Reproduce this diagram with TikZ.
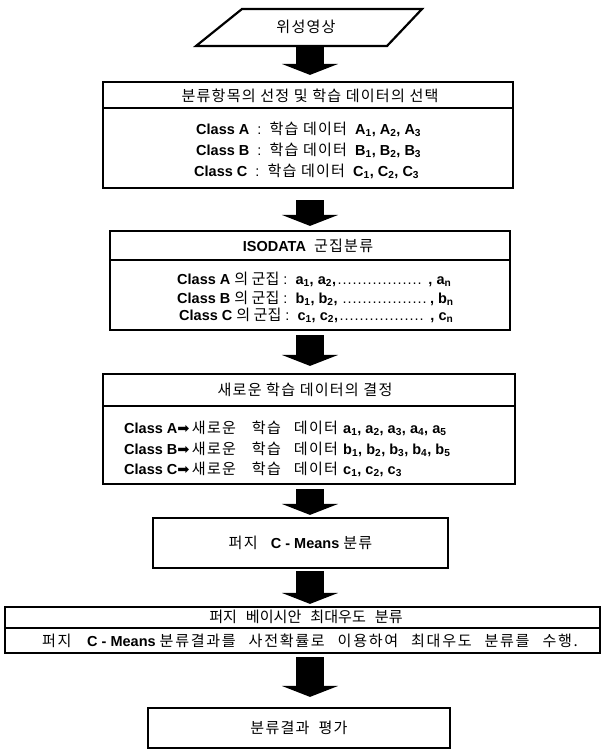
\documentclass[tikz,border=0pt]{standalone}
\usepackage{fontspec}
\setmainfont{Liberation Sans}
\newfontfamily\kr[Scale=1.04]{Noto Sans CJK KR}
\newfontfamily\krs[Scale=1.04,LetterSpace=8]{Noto Sans CJK KR}
\newfontfamily\krw[Scale=1.04,LetterSpace=11]{Noto Sans CJK KR}
\newfontfamily\dv{DejaVu Sans}
\usetikzlibrary{arrows.meta,calc}
\newcommand\kt[1]{{\kr #1}}
\newcommand\ks[1]{{\krs #1}}
\newcommand\kw[1]{{\krw #1}}
\newcommand\sub[1]{\textsubscript{\textbf{#1}}}
\newcommand\dts[1]{\leaders\hbox to 5pt{\hss.\hss}\hskip #1\relax}
\begin{document}
\begin{tikzpicture}[x=1pt,y=-1pt,
  every node/.style={font=\fontsize{14.5}{16}\selectfont},
  box/.style={draw,line width=2.2pt,inner sep=0pt},
  divl/.style={line width=1.4pt},
  txt/.style={inner sep=0pt},
  ltxt/.style={inner sep=0pt,anchor=west},
  blk/.style={line width=28pt,-{Triangle[width=56pt,length=11pt]}}]
\useasboundingbox (0,0) rectangle (603,750);
\coordinate (ax) at (310,0);
% source parallelogram
\draw[line width=2.2pt,line join=miter] (196,46) -- (242,9) -- (422,9) -- (387,46) -- cycle;
\node[txt] (src) at (306,27) {\ks{위성영상}};
\coordinate (srcb) at (310,47);
% box 1
\node[box,minimum width=410pt,minimum height=106pt] (b1) at (308,135) {};
\draw[divl] (103,108) -- (513,108);
\node[txt] (h1) at (310,96) {\ks{분류항목의 선정 및 학습 데이터의 선택}};
\node[ltxt] (l11) at (196,129) {\textbf{Class A}\ \ :\ \ \ks{학습 데이터}\ \ \textbf{A\sub{1}, A\sub{2}, A\sub{3}}};
\node[ltxt] (l12) at (196,150) {\textbf{Class B}\ \ :\ \ \ks{학습 데이터}\ \ \textbf{B\sub{1}, B\sub{2}, B\sub{3}}};
\node[ltxt] (l13) at (194,171) {\textbf{Class C}\ \ :\ \ \ks{학습 데이터}\ \ \textbf{C\sub{1}, C\sub{2}, C\sub{3}}};
% box 2
\node[box,minimum width=400pt,minimum height=99pt] (b2) at (310,280.5) {};
\draw[divl] (110,260) -- (510,260);
\node[txt] (h2) at (308,246) {\textbf{ISODATA}\ \ \ks{군집분류}};
\node[ltxt] (l21) at (177,279) {\textbf{Class A} \kt{의 군집}\ :\ \ \textbf{a\sub{1}, a\sub{2},}\dts{90pt}\,\textbf{, a\sub{n}}};
\node[ltxt] (l22) at (177,298) {\textbf{Class B} \kt{의 군집}\ :\ \ \textbf{b\sub{1}, b\sub{2},}\dts{90pt}\,\textbf{, b\sub{n}}};
\node[ltxt] (l23) at (179,315) {\textbf{Class C} \kt{의 군집}\ :\ \ \textbf{c\sub{1}, c\sub{2},}\dts{90pt}\,\textbf{, c\sub{n}}};
% box 3
\node[box,minimum width=412pt,minimum height=110pt] (b3) at (309,429) {};
\draw[divl] (103,406) -- (515,406);
\node[txt] (h3) at (305,390) {\ks{새로운 학습 데이터의 결정}};
\node[ltxt] (l31) at (124,428) {\textbf{Class A}{\dv ➡}\,\ks{새로운}\hspace{16pt}\ks{학습}\hspace{13pt}\ks{데이터}\ \textbf{a\sub{1}, a\sub{2}, a\sub{3}, a\sub{4}, a\sub{5}}};
\node[ltxt] (l32) at (124,449) {\textbf{Class B}{\dv ➡}\,\ks{새로운}\hspace{16pt}\ks{학습}\hspace{13pt}\ks{데이터}\ \textbf{b\sub{1}, b\sub{2}, b\sub{3}, b\sub{4}, b\sub{5}}};
\node[ltxt] (l33) at (124,469) {\textbf{Class C}{\dv ➡}\,\ks{새로운}\hspace{16pt}\ks{학습}\hspace{13pt}\ks{데이터}\ \textbf{c\sub{1}, c\sub{2}, c\sub{3}}};
% box 4
\node[box,minimum width=295pt,minimum height=50pt] (b4) at (300.5,543) {\ks{퍼지}\hspace{12pt}\textbf{C - Means} \ks{분류}};
% box 5
\node[box,minimum width=595pt,minimum height=46pt] (b5) at (302.5,630) {};
\draw[divl] (5,628) -- (600,628);
\node[txt] (h5) at (306,617) {\kt{퍼지}\hspace{9pt}\kt{베이시안}\hspace{9pt}\kt{최대우도}\hspace{9pt}\kt{분류}};
\node[txt] (l51) at (310,641) {\kw{퍼지}\hspace{14pt}\textbf{C - Means} \kw{분류결과를}\hspace{13pt}\kw{사전확률로}\hspace{13pt}\kw{이용하여}\hspace{13pt}\kw{최대우도}\hspace{13pt}\kw{분류를}\hspace{13pt}\kw{수행.}};
% box 6
\node[box,minimum width=302pt,minimum height=40pt] (b6) at (299,728) {\ks{분류결과}\hspace{9pt}\ks{평가}};
% block arrows
\draw[blk] (srcb) -- ($(b1.north -| ax)+(0,-6)$);
\draw[blk] ($(b1.south -| ax)+(0,11)$) -- ($(b2.north -| ax)+(0,-4)$);
\draw[blk] ($(b2.south -| ax)+(0,4)$) -- ($(b3.north -| ax)+(0,-7)$);
\draw[blk] ($(b3.south -| ax)+(0,4)$) -- ($(b4.north -| ax)+(0,-2)$);
\draw[blk] ($(b4.south -| ax)+(0,2)$) -- ($(b5.north -| ax)+(0,-2)$);
\draw[blk] ($(b5.south -| ax)+(0,3)$) -- ($(b6.north -| ax)+(0,-10)$);
\end{tikzpicture}
\end{document}
